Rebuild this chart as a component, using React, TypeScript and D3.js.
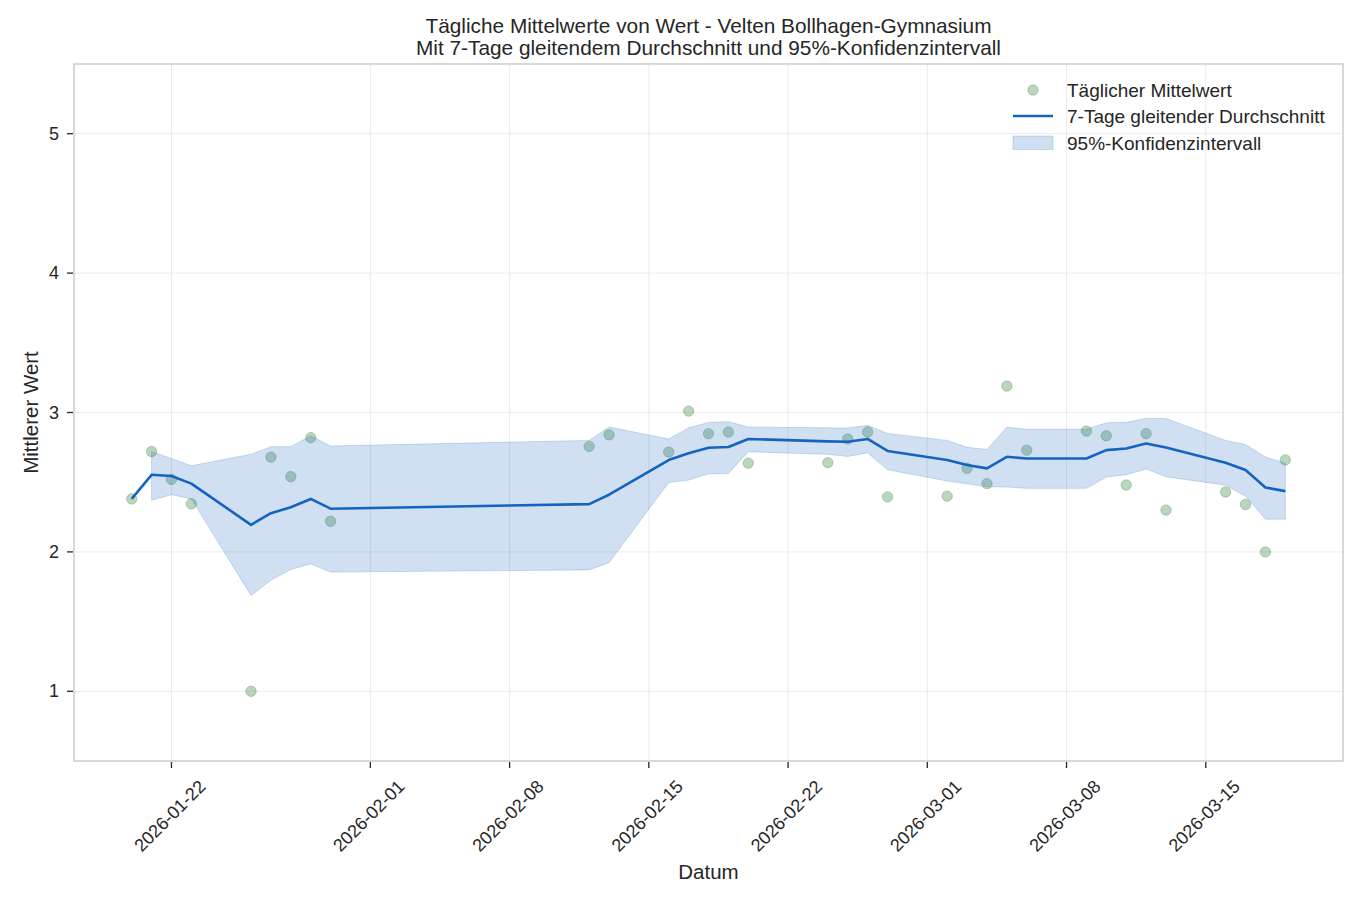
import React from "react";
import * as d3 from "d3";

const dates: string[] = [
  "2026-01-20", "2026-01-21", "2026-01-22", "2026-01-23", "2026-01-26", "2026-01-27",
  "2026-01-28", "2026-01-29", "2026-01-30", "2026-02-12", "2026-02-13", "2026-02-16",
  "2026-02-17", "2026-02-18", "2026-02-19", "2026-02-20", "2026-02-24", "2026-02-25",
  "2026-02-26", "2026-02-27", "2026-03-02", "2026-03-03", "2026-03-04", "2026-03-05",
  "2026-03-06", "2026-03-09", "2026-03-10", "2026-03-11", "2026-03-12", "2026-03-13",
  "2026-03-16", "2026-03-17", "2026-03-18", "2026-03-19",
];

const dailyMean: number[] = [
  2.38, 2.72, 2.52, 2.345, 1.0, 2.68,
  2.54, 2.82, 2.22, 2.757, 2.84, 2.716,
  3.01, 2.848, 2.86, 2.637, 2.64, 2.81,
  2.86, 2.395, 2.40, 2.60, 2.49, 3.19,
  2.73, 2.867, 2.833, 2.48, 2.848, 2.30,
  2.43, 2.34, 2.00, 2.66,
];

const rollingMean: number[] = [
  2.38, 2.553, 2.544, 2.49, 2.194, 2.278,
  2.32, 2.38, 2.31, 2.343, 2.41, 2.659,
  2.707, 2.747, 2.752, 2.81, 2.793, 2.79,
  2.81, 2.724, 2.659, 2.623, 2.599, 2.682,
  2.67, 2.67, 2.73, 2.742, 2.778, 2.749,
  2.639, 2.587, 2.462, 2.436,
];

const ciLower: (number | null)[] = [
  null, 2.37, 2.41, 2.38, 1.687, 1.797,
  1.874, 1.914, 1.855, 1.871, 1.923, 2.498,
  2.515, 2.56, 2.562, 2.718, 2.70, 2.685,
  2.71, 2.59, 2.508, 2.489, 2.467, 2.465,
  2.456, 2.456, 2.537, 2.554, 2.594, 2.539,
  2.479, 2.40, 2.235, 2.235,
];

const ciUpper: (number | null)[] = [
  null, 2.72, 2.67, 2.618, 2.70, 2.755,
  2.755, 2.833, 2.76, 2.80, 2.896, 2.81,
  2.89, 2.929, 2.934, 2.896, 2.89, 2.889,
  2.908, 2.85, 2.80, 2.75, 2.735, 2.894,
  2.88, 2.88, 2.926, 2.93, 2.957, 2.957,
  2.80, 2.77, 2.68, 2.637,
];

const xTickLabels: string[] = [
  "2026-01-22", "2026-02-01", "2026-02-08", "2026-02-15",
  "2026-02-22", "2026-03-01", "2026-03-08", "2026-03-15",
];
const yTicks: number[] = [1, 2, 3, 4, 5];

const titleLines: string[] = [
  "Tägliche Mittelwerte von Wert - Velten Bollhagen-Gymnasium",
  "Mit 7-Tage gleitendem Durchschnitt und 95%-Konfidenzintervall",
];
const legendLabels: string[] = [
  "Täglicher Mittelwert",
  "7-Tage gleitender Durchschnitt",
  "95%-Konfidenzintervall",
];

const W = 1366;
const H = 901;
const left = 74, right = 1343, top = 64, bottom = 761;
const FONT = "'Liberation Sans', Arial, Helvetica, sans-serif";
const TEXT = "#262626";
const LINE_COLOR = "#1565C0";
const POINT_COLOR = "#2E7D32";

const parse = (s: string) => new Date(s + "T00:00:00Z");

export default function App() {
  const parsed = dates.map(parse);
  const t0 = parsed[0].getTime();
  const t1 = parsed[parsed.length - 1].getTime();
  const pad = (t1 - t0) * 0.05;
  const x = d3.scaleUtc().domain([new Date(t0 - pad), new Date(t1 + pad)]).range([left, right]);
  const y = d3.scaleLinear().domain([0.5, 5.5]).range([bottom, top]);

  const rows = parsed.map((d, i) => ({
    d, v: dailyMean[i], m: rollingMean[i], lo: ciLower[i], hi: ciUpper[i],
  }));

  const line = d3.line<typeof rows[0]>().x((r) => x(r.d)).y((r) => y(r.m));
  const area = d3
    .area<typeof rows[0]>()
    .defined((r) => r.lo !== null && r.hi !== null)
    .x((r) => x(r.d))
    .y0((r) => y(r.lo as number))
    .y1((r) => y(r.hi as number));

  const xTicks = xTickLabels.map(parse);
  const cx = (left + right) / 2;

  return (
    <svg width={W} height={H} style={{ position: "absolute", left: 0, top: 0, background: "#fff" }} fontFamily={FONT}>
      <rect x={0} y={0} width={W} height={H} fill="#fff" />
      {/* grid */}
      {xTicks.map((t, i) => (
        <line key={"gx" + i} x1={x(t)} x2={x(t)} y1={top} y2={bottom} stroke="#ebebeb" strokeWidth={1} />
      ))}
      {yTicks.map((v, i) => (
        <line key={"gy" + i} x1={left} x2={right} y1={y(v)} y2={y(v)} stroke="#ebebeb" strokeWidth={1} />
      ))}

      {/* scatter */}
      {rows.map((r, i) => (
        <circle key={"p" + i} cx={x(r.d)} cy={y(r.v)} r={5.2} fill={POINT_COLOR} fillOpacity={0.32}
          stroke={POINT_COLOR} strokeOpacity={0.3} strokeWidth={1} />
      ))}

      {/* rolling mean */}
      <path d={line(rows) || ""} fill="none" stroke={LINE_COLOR} strokeWidth={2.6} strokeLinejoin="round" />

      {/* CI band */}
      <path d={area(rows) || ""} fill={LINE_COLOR} fillOpacity={0.2} stroke={LINE_COLOR} strokeOpacity={0.2} strokeWidth={1} />

      {/* frame */}
      <rect x={left} y={top} width={right - left} height={bottom - top} fill="none" stroke="#cccccc" strokeWidth={1.5} />

      {/* x ticks */}
      {xTicks.map((t, i) => {
        const px = x(t);
        const cy = 816;
        return (
          <g key={"xt" + i}>
            <line x1={px} x2={px} y1={bottom + 1} y2={bottom + 7} stroke={TEXT} strokeWidth={1.3} />
            <text x={px - 1.5} y={cy} fontSize={18} fill={TEXT} textAnchor="middle" dominantBaseline="central"
              transform={`rotate(-45, ${px - 1.5}, ${cy})`}>
              {xTickLabels[i]}
            </text>
          </g>
        );
      })}

      {/* y ticks */}
      {yTicks.map((v, i) => (
        <g key={"yt" + i}>
          <line x1={left - 7} x2={left - 1} y1={y(v)} y2={y(v)} stroke={TEXT} strokeWidth={1.3} />
          <text x={left - 15} y={y(v)} fontSize={18} fill={TEXT} textAnchor="end" dominantBaseline="central">
            {v}
          </text>
        </g>
      ))}

      {/* title */}
      {titleLines.map((s, i) => (
        <text key={"t" + i} x={cx} y={32.5 + i * 22} fontSize={20.8} fill={TEXT} textAnchor="middle">
          {s}
        </text>
      ))}

      {/* axis labels */}
      <text x={cx} y={879} fontSize={20.5} fill={TEXT} textAnchor="middle">Datum</text>
      <text x={0} y={0} fontSize={20.5} fill={TEXT} textAnchor="middle" dominantBaseline="central"
        transform={`translate(30, ${(top + bottom) / 2}) rotate(-90)`}>
        Mittlerer Wert
      </text>

      {/* legend */}
      <g>
        <circle cx={1033} cy={90} r={5.2} fill={POINT_COLOR} fillOpacity={0.32} stroke={POINT_COLOR} strokeOpacity={0.3} strokeWidth={1} />
        <text x={1067} y={90} fontSize={19} fill={TEXT} dominantBaseline="central">{legendLabels[0]}</text>
        <line x1={1013} x2={1053} y1={116} y2={116} stroke={LINE_COLOR} strokeWidth={2.6} />
        <text x={1067} y={116} fontSize={19} fill={TEXT} dominantBaseline="central">{legendLabels[1]}</text>
        <rect x={1013} y={136} width={40} height={13.5} fill={LINE_COLOR} fillOpacity={0.2} stroke={LINE_COLOR} strokeOpacity={0.2} strokeWidth={1} />
        <text x={1067} y={143} fontSize={19} fill={TEXT} dominantBaseline="central">{legendLabels[2]}</text>
      </g>
    </svg>
  );
}
